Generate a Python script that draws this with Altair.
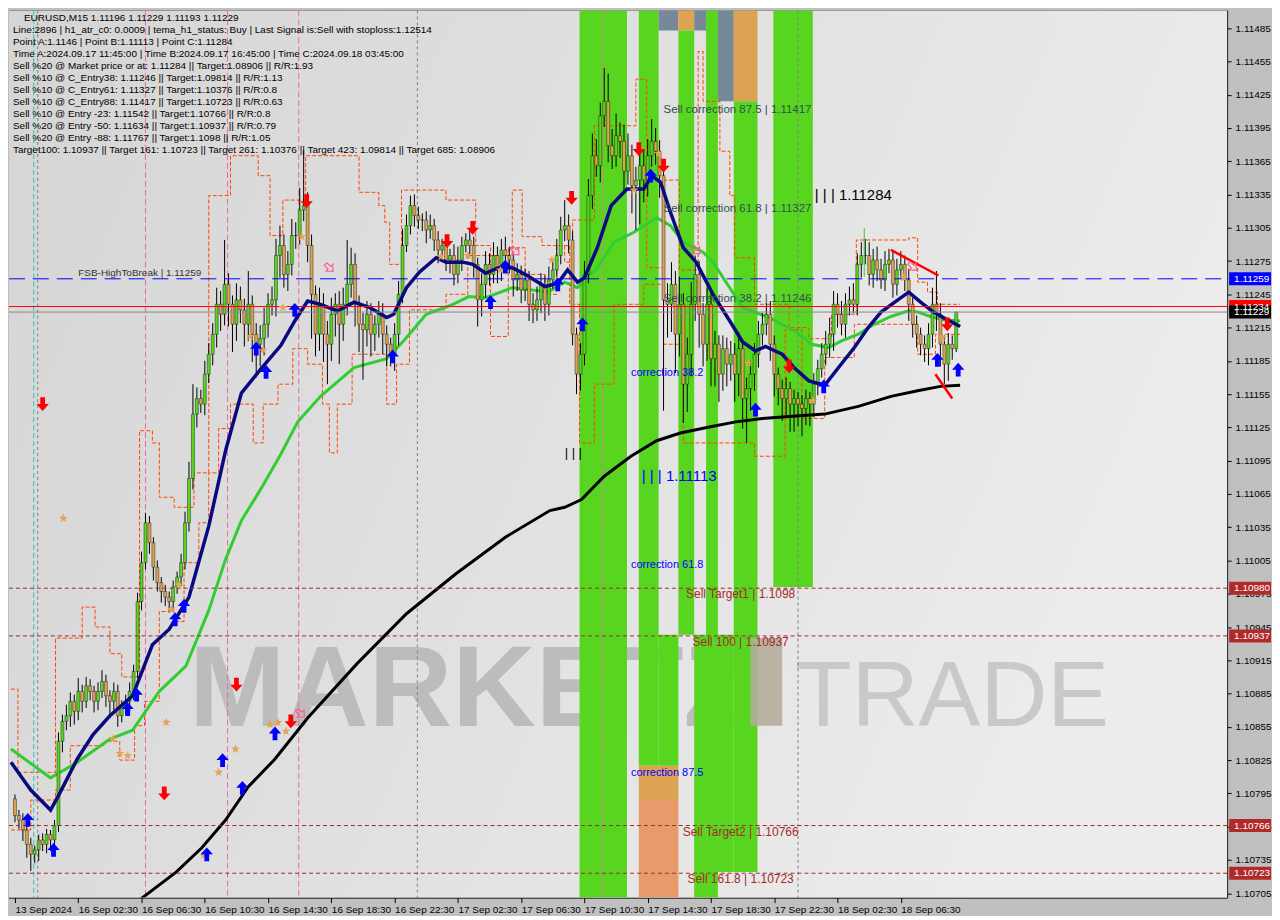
import altair as alt
import pandas as pd

W, H = 1222, 890
XDOM = [-0.25, 305.25]
YDOM = [1.10701, 1.11501]
FONT = "Liberation Sans"


def pr(v):
    # 5-digit pipette reading (e.g. 11229) -> price 1.11229
    return 1.0 + v / 100000.0


# ---------------- candles (15-minute bars), closes in pipettes ----------------
FIRST_OPEN = 10790
CLOSE = [10775, 10771, 10762, 10749, 10740, 10744, 10753, 10749, 10758, 10753,
         10766, 10842, 10860, 10865, 10878, 10869, 10887, 10878, 10892, 10887,
         10878, 10887, 10896, 10883, 10878, 10887, 10865, 10874, 10878, 10887,
         10905, 10968, 11003, 11039, 11021, 10999, 10985, 10977, 10972, 10968,
         10981, 10990, 11003, 11039, 11079, 11137, 11151, 11146, 11173, 11191,
         11209, 11236, 11227, 11254, 11236, 11218, 11240, 11231, 11218, 11236,
         11209, 11200, 11205, 11218, 11236, 11240, 11280, 11289, 11263, 11272,
         11298, 11298, 11321, 11325, 11289, 11245, 11209, 11236, 11209, 11200,
         11227, 11236, 11218, 11236, 11254, 11272, 11236, 11218, 11213, 11227,
         11209, 11218, 11227, 11209, 11200, 11191, 11209, 11245, 11289, 11307,
         11325, 11316, 11312, 11312, 11303, 11307, 11294, 11285, 11289, 11276,
         11280, 11263, 11276, 11289, 11294, 11289, 11272, 11240, 11254, 11272,
         11263, 11280, 11267, 11285, 11280, 11276, 11258, 11263, 11249, 11258,
         11236, 11231, 11240, 11254, 11236, 11258, 11267, 11280, 11303, 11307,
         11294, 11209, 11173, 11191, 11263, 11334, 11370, 11361, 11406, 11419,
         11379, 11370, 11388, 11383, 11356, 11370, 11343, 11348, 11361, 11348,
         11370, 11383, 11374, 11352, 11240, 11236, 11254, 11209, 11236, 11164,
         11191, 11236, 11263, 11227, 11200, 11236, 11187, 11200, 11173, 11196,
         11182, 11191, 11173, 11196, 11151, 11160, 11173, 11191, 11209, 11218,
         11227, 11200, 11173, 11160, 11151, 11160, 11146, 11151, 11146, 11142,
         11151, 11146, 11164, 11178, 11191, 11200, 11209, 11236, 11227, 11218,
         11236, 11240, 11236, 11272, 11280, 11280, 11263, 11276, 11267, 11258,
         11272, 11276, 11254, 11267, 11272, 11258, 11236, 11218, 11209, 11200,
         11196, 11209, 11236, 11227, 11200, 11182, 11200, 11196, 11229]
UPPER_WICK = [4, 5, 6, 5, 6, 4, 5, 6, 5, 4,
              5, 8, 6, 10, 8, 6, 12, 6, 8, 6,
              5, 8, 10, 6, 5, 8, 6, 5, 6, 8,
              6, 8, 10, 9, 6, 5, 6, 5, 6, 5,
              6, 5, 8, 10, 15, 27, 10, 8, 12, 10,
              10, 15, 12, 40, 10, 8, 15, 12, 10, 30,
              8, 10, 12, 15, 10, 12, 15, 18, 10, 12,
              15, 12, 20, 50, 12, 10, 8, 15, 10, 12,
              15, 10, 12, 15, 40, 15, 10, 8, 10, 12,
              10, 8, 12, 10, 8, 6, 10, 12, 15, 10,
              9, 10, 8, 6, 8, 10, 6, 8, 6, 8,
              6, 10, 12, 8, 6, 10, 8, 6, 10, 12,
              10, 12, 8, 10, 12, 8, 6, 10, 8, 10,
              8, 10, 12, 10, 8, 12, 10, 15, 12, 23,
              10, 8, 6, 10, 12, 15, 20, 15, 12, 30,
              25, 15, 20, 12, 15, 20, 10, 12, 20, 15,
              15, 20, 12, 10, 8, 15, 20, 12, 25, 10,
              15, 20, 17, 12, 10, 15, 10, 12, 8, 12,
              10, 12, 10, 15, 8, 10, 12, 10, 12, 10,
              10, 12, 8, 6, 8, 10, 6, 8, 6, 8,
              8, 6, 10, 8, 10, 12, 15, 12, 10, 12,
              10, 12, 15, 10, 12, 15, 12, 10, 12, 10,
              12, 10, 8, 10, 12, 8, 10, 6, 8, 6,
              8, 10, 15, 30, 10, 8, 10, 8, 0]
LOWER_WICK = [6, 8, 10, 12, 15, 8, 10, 6, 8, 10,
              8, 6, 10, 8, 10, 12, 8, 10, 6, 8,
              10, 8, 6, 10, 12, 8, 10, 6, 8, 10,
              8, 6, 8, 6, 10, 12, 8, 10, 8, 10,
              8, 6, 8, 6, 8, 10, 12, 8, 10, 8,
              10, 12, 15, 10, 20, 25, 15, 12, 20, 15,
              25, 30, 20, 15, 12, 10, 15, 20, 12, 15,
              10, 12, 8, 10, 15, 40, 20, 15, 25, 36,
              15, 20, 36, 15, 10, 12, 20, 25, 45, 15,
              20, 15, 12, 18, 20, 11, 15, 10, 8, 6,
              8, 10, 8, 10, 12, 8, 10, 12, 8, 10,
              12, 10, 8, 10, 6, 10, 12, 24, 15, 12,
              10, 8, 12, 10, 8, 12, 15, 10, 12, 10,
              15, 12, 10, 12, 15, 10, 8, 6, 8, 10,
              12, 10, 18, 15, 10, 8, 12, 10, 15, 10,
              15, 12, 10, 15, 20, 12, 25, 40, 40, 20,
              15, 10, 12, 20, 100, 30, 25, 35, 20, 35,
              25, 20, 15, 30, 20, 15, 25, 25, 25, 15,
              20, 15, 25, 20, 27, 40, 20, 15, 12, 10,
              10, 15, 20, 15, 20, 15, 25, 25, 20, 25,
              15, 20, 12, 10, 8, 10, 12, 15, 12, 10,
              12, 10, 8, 10, 12, 8, 10, 12, 10, 8,
              10, 8, 12, 10, 8, 10, 15, 12, 12, 10,
              12, 15, 12, 15, 20, 18, 15, 10, 3]

# ---------------- indicator lines (bar index, pipettes) ----------------
BLUE_X = [-1, 4, 9, 11, 15.75, 19.75, 24, 29.75, 34.75, 39, 44, 49, 53.25, 57.25, 62.25, 67.25,
          70.75, 74, 77.25, 81.5, 85.75, 89.75, 94, 95.75, 99, 102.25, 106.5, 109, 113.25, 115.75,
          119, 122.25, 125.75, 129, 134, 137.25, 139.75, 142.25, 144, 147.25, 150.75, 154.75, 159,
          161, 163.25, 165.75, 169, 172.25, 176.5, 180.75, 184, 187.25, 189.75, 194, 197.25, 200.75,
          204.75, 208.25, 212.25, 215.75, 219, 223.25, 226, 229, 232.25, 234.75, 239]
BLUE_V = [10823, 10798, 10780, 10793, 10826, 10848, 10865, 10883, 10929, 10943, 10972, 11036, 11104,
          11156, 11178, 11199, 11221, 11239, 11236, 11230, 11238, 11233, 11224, 11227, 11251, 11265,
          11278, 11274, 11274, 11272, 11264, 11269, 11269, 11263, 11252, 11255, 11267, 11256, 11260,
          11287, 11325, 11340, 11340, 11352, 11346, 11319, 11287, 11274, 11245, 11221, 11202, 11194,
          11198, 11191, 11178, 11167, 11163, 11179, 11197, 11215, 11229, 11240, 11247, 11238, 11229,
          11224, 11216]
GREEN_X = [-1, 9, 15.75, 24, 29.75, 36.5, 43.25, 49, 53.25, 57.25, 62.25, 67.25, 71.5, 77.25, 85.75,
           94, 98.25, 104, 110.75, 114.75, 119, 125.75, 130.75, 134.75, 139, 142.25, 147.25, 151.5,
           156.5, 162.25, 165.75, 169, 174, 176.5, 184, 190.75, 197.25, 201.5, 205.75, 209, 213.25,
           217.25, 221.5, 225.75, 228.25, 231.5, 234.75, 239]
GREEN_V = [10835, 10809, 10823, 10844, 10852, 10887, 10910, 10960, 11006, 11041, 11070, 11101, 11130,
           11153, 11179, 11187, 11203, 11227, 11236, 11243, 11242, 11251, 11249, 11247, 11256, 11251,
           11269, 11292, 11301, 11314, 11307, 11292, 11283, 11274, 11233, 11224, 11212, 11200, 11197,
           11203, 11209, 11218, 11225, 11230, 11229, 11225, 11222, 11221]
BLACK_X = [28.5, 32.25, 40.75, 47.25, 53.25, 59, 65.75, 74, 86.5, 99, 111.5, 124, 135.25, 139,
           143.25, 149, 155.75, 162.25, 168.25, 176.5, 182.25, 189, 196.5, 204.75, 213.25, 221.5,
           228.25, 234, 239]
BLACK_V = [10690, 10701, 10724, 10746, 10771, 10801, 10826, 10863, 10912, 10957, 10993, 11026, 11050,
           11053, 11060, 11081, 11099, 11113, 11120, 11126, 11130, 11133, 11135, 11137, 11144, 11153,
           11158, 11162, 11163]
UPPER_X = [-1, 0.75, 10.25, 17, 20.25, 24, 27, 31.5, 34.75, 36.5, 40.25, 45.25, 49, 54.5, 61.5, 64.5,
           67.75, 73.5, 87, 92, 93.5, 94.75, 97.75, 109, 116.5, 120.25, 125.75, 128.25, 133.25, 139,
           141, 146.5, 157, 159.75, 164, 168, 172.75, 174, 178.25, 180.75, 182, 187, 195.75, 200.75,
           206.5, 212.75, 226, 228.25, 230.75, 233.25, 239]
UPPER_V = [10889, 10814, 10935, 10963, 10945, 10921, 10900, 11122, 11111, 11062, 11053, 11084, 11334,
           11370, 11352, 11298, 11330, 11370, 11337, 11325, 11310, 11272, 11339, 11330, 11289, 11280,
           11339, 11297, 11289, 11274, 11312, 11397, 11439, 11269, 11348, 11267, 11464, 11419, 11374,
           11334, 11278, 11236, 11215, 11205, 11227, 11294, 11296, 11256, 11247, 11236, 11236]
LOWER_X = [-1, 4, 10.25, 14, 22.75, 26.5, 30.25, 32.75, 36.5, 40.25, 42.75, 46.5, 49, 51.5, 54.5,
           60.25, 62.75, 66.5, 70.25, 74, 77.75, 79.5, 81.5, 85.25, 94, 96.5, 99.75, 109, 114.5,
           120.25, 124.75, 129, 134, 137, 140.25, 142.75, 146.5, 151.5, 159, 164, 169, 187, 194.75,
           199, 204.75, 212.25, 226, 228.25, 232.75, 239]
LOWER_V = [10762, 10789, 10798, 10838, 10842, 10825, 10856, 10878, 10959, 10950, 11003, 11039, 11084,
           11124, 11146, 11111, 11146, 11164, 11196, 11182, 11146, 11102, 11146, 11191, 11146, 11182,
           11231, 11245, 11280, 11207, 11287, 11263, 11245, 11289, 11236, 11111, 11164, 11236, 11254,
           11200, 11111, 11099, 11213, 11133, 11188, 11218, 11218, 11191, 11209, 11209]

# ---------------- signals ----------------
SELL_X = [7, 37.75, 56, 69.75, 73.75, 109.25, 115.75, 140.75, 157.75, 164, 195.75, 235.75]
SELL_V = [11146, 10795, 10893, 10860, 11329, 11293, 11305, 11332, 11376, 11361, 11180, 11218]
BUY_X = [3.25, 9.75, 28.5, 30.75, 40.5, 42.75, 48.5, 52.5, 57.5, 61, 63.5, 65.75, 70.75, 95.5,
         120.25, 124, 137.25, 143.5, 160.75, 187.25, 204.5, 233.25, 238.5]
BUY_V = [10771, 10744, 10871, 10884, 10952, 10964, 10740, 10825, 10800, 11196, 11175, 10849, 11231,
         11189, 11238, 11270, 11254, 11218, 11352, 11141, 11162, 11186, 11177]
STAR_X = [12.25, 38.25, 24.75, 26.5, 28.5, 39.5, 41.5, 51.5, 55.75, 47.75, 59.5, 62.75, 64.5, 66.5,
          68.5, 67.75, 72.5, 107.75, 114.5, 122.75, 135.75, 156.5, 162.75, 185.5, 201.75, 224.75, 234.5]
STAR_V = [11043, 10859, 10844, 10831, 10829, 10961, 10983, 10814, 10835, 10739, 11207, 11195, 10857,
          10859, 10851, 11233, 11297, 11279, 11280, 11267, 11276, 11339, 11372, 11183, 11149, 11260, 11206]
HOLLOW_X = [72.25, 79.5, 126.5, 172.25, 227]
HOLLOW_V = [10867, 11269, 11284, 11285, 11270]

# ---------------- zones ----------------
BAND_X0 = [142.75, 157.75, 157.75, 157.75, 162.75, 162.75, 167.75, 167.75, 171.75, 171.75, 174.75,
           177.75, 177.75, 181.75, 181.75, 191.75]
BAND_X1 = [154.75, 162.75, 167.75, 167.75, 167.75, 167.75, 171.75, 171.75, 174.75, 174.75, 177.75,
           181.75, 181.75, 187.75, 187.75, 201.75]
BAND_V0 = [11501, 11501, 10820, 10789, 11501, 10938, 11501, 11483, 11501, 10938, 11501, 11501, 10938,
           11501, 11419, 11501]
BAND_V1 = [10701, 10820, 10789, 10701, 11483, 10820, 11483, 10938, 11483, 10701, 10701, 11419, 10724,
           11419, 10724, 10981]
BAND_KIND = ["g", "g", "o", "s", "k", "g", "o", "g", "k", "g", "g", "k", "g", "o", "g", "g"]
BAND_COLORS = {"g": "#58d61f", "o": "#dca352", "s": "#e99a6b", "k": "#778899"}

TARGET_LEVELS = [10980, 10937, 10766, 10723]
TARGET_TEXT = ["Sell Target1 | 1.1098", "Sell 100 | 1.10937", "Sell Target2 | 1.10766", "Sell 161.8 | 1.10723"]
CORR_LEVELS = [11417, 11327, 11246]
CORR_TEXT = ["Sell correction 87.5 | 1.11417", "Sell correction 61.8 | 1.11327", "Sell correction 38.2 | 1.11246"]
BLUE_CORR_V = [11174, 11001, 10813]
BLUE_CORR_TEXT = ["correction 38.2", "correction 61.8", "correction 87.5"]
FSB_LEVEL = 11259
BID_LEVEL = 11229
ASK_LEVEL = 11234

TAG_V = [11259, 11234, 11229, 10980, 10937, 10766, 10723]
TAG_COLOR = ["#0000ff", "#ff0000", "#000000", "#b02a2a", "#b02a2a", "#b02a2a", "#b02a2a"]

VLINE_X = [4.75, 5.75, 33, 53.75, 71.75, 148.75, 101.75, 198]
VLINE_KIND = ["c", "d", "p", "p", "p", "p", "d", "d"]

TIME_TICKS = [0, 16, 32, 48, 64, 80, 96, 112, 128, 144, 160, 176, 192, 208, 224]
TIME_LABELS = ["13 Sep 2024", "16 Sep 02:30", "16 Sep 06:30", "16 Sep 10:30", "16 Sep 14:30",
               "16 Sep 18:30", "16 Sep 22:30", "17 Sep 02:30", "17 Sep 06:30", "17 Sep 10:30",
               "17 Sep 14:30", "17 Sep 18:30", "17 Sep 22:30", "18 Sep 02:30", "18 Sep 06:30"]
PRICE_TICKS = [10705, 10735, 10765, 10795, 10825, 10855, 10885, 10915, 10945, 10975, 11005, 11035,
               11065, 11095, 11125, 11155, 11185, 11215, 11245, 11275, 11305, 11335, 11365, 11395,
               11425, 11455, 11485]

HEADER = "EURUSD,M15  1.11196 1.11229 1.11193 1.11229"
INFO_LINES = [
    "Line:2896 | h1_atr_c0: 0.0009 | tema_h1_status: Buy | Last Signal is:Sell with stoploss:1.12514",
    "Point A:1.1146 | Point B:1.11113 | Point C:1.11284",
    "Time A:2024.09.17 11:45:00 | Time B:2024.09.17 16:45:00 | Time C:2024.09.18 03:45:00",
    "Sell %20 @ Market price or at: 1.11284 || Target:1.08906 || R/R:1.93",
    "Sell %10 @ C_Entry38: 1.11246 || Target:1.09814 || R/R:1.13",
    "Sell %10 @ C_Entry61: 1.11327 || Target:1.10376 || R/R:0.8",
    "Sell %10 @ C_Entry88: 1.11417 || Target:1.10723 || R/R:0.63",
    "Sell %10 @ Entry -23: 1.11542 || Target:1.10766 || R/R:0.8",
    "Sell %20 @ Entry -50: 1.11634 || Target:1.10937 || R/R:0.79",
    "Sell %20 @ Entry -88: 1.11767 || Target:1.1098 || R/R:1.05",
    "Target100: 1.10937 || Target 161: 1.10723 || Target 261: 1.10376 || Target 423: 1.09814 || Target 685: 1.08906",
]

# ---------------- tables ----------------
opens = [FIRST_OPEN] + CLOSE[:-1]
candles = pd.DataFrame({
    "i": list(range(len(CLOSE))),
    "o": [pr(v) for v in opens],
    "c": [pr(v) for v in CLOSE],
    "hi": [pr(max(o, c) + u) for o, c, u in zip(opens, CLOSE, UPPER_WICK)],
    "lo": [pr(min(o, c) - l) for o, c, l in zip(opens, CLOSE, LOWER_WICK)],
    "up": [c >= o for o, c in zip(opens, CLOSE)],
})


def line_df(xs, vs):
    return pd.DataFrame({"i": xs, "p": [pr(v) for v in vs]})


bands = pd.DataFrame({"x0": BAND_X0, "x1": BAND_X1, "p0": [pr(v) for v in BAND_V0],
                      "p1": [pr(v) for v in BAND_V1], "k": BAND_KIND})

label_expr = "[" + ",".join("'%s'" % s for s in TIME_LABELS) + "][round(datum.value/16)]"
AX_X = alt.Axis(values=TIME_TICKS, labelExpr=label_expr, title=None, orient="bottom",
                labelAlign="left", labelFont=FONT, labelFontSize=10, labelColor="black",
                tickColor="black", tickSize=5, domain=False, grid=False, labelPadding=2,
                labelOverlap=False)
AX_Y = alt.Axis(values=[pr(v) for v in PRICE_TICKS], format=".5f", title=None, orient="right",
                labelFont=FONT, labelFontSize=10, labelColor="black", tickColor="black",
                tickSize=4, domain=False, grid=False, labelPadding=4, labelOverlap=False)
XS = alt.Scale(domain=XDOM, nice=False, zero=False)
YS = alt.Scale(domain=YDOM, nice=False, zero=False)


def X(f):
    return alt.X(f, type="quantitative", scale=XS, axis=AX_X)


def Y(f):
    return alt.Y(f, type="quantitative", scale=YS, axis=AX_Y)


one = pd.DataFrame({"a": [0]})
layers = []

# background gradient
grad = alt.Gradient(gradient="linear", x1=0, x2=1, y1=0, y2=0.3,
                    stops=[alt.GradientStop(color="#d5d5d5", offset=0),
                           alt.GradientStop(color="#e0e0e0", offset=0.5),
                           alt.GradientStop(color="#ececec", offset=1)])
layers.append(alt.Chart(one).mark_rect(fill=grad).encode(
    x=alt.value(0), x2=alt.value(W), y=alt.value(0), y2=alt.value(H)))

# watermark
wm = pd.DataFrame({"i": [44, 197.25], "p": [pr(10856), pr(10856)], "t": ["MARKETZ", "TRADE"]})
layers.append(alt.Chart(wm.iloc[[0]]).mark_text(font=FONT, fontSize=116, fontWeight="bold",
                                                 align="left", baseline="alphabetic",
                                                 color="#bcbcbc").encode(x=X("i"), y=Y("p"), text="t"))
layers.append(alt.Chart(wm.iloc[[1]]).mark_text(font=FONT, fontSize=93, fontWeight="normal",
                                                 align="left", baseline="alphabetic",
                                                 color="#c9c9c9").encode(x=X("i"), y=Y("p"), text="t"))

# zones
layers.append(alt.Chart(bands).mark_rect(clip=True).encode(
    x=X("x0"), x2="x1", y=Y("p0"), y2="p1",
    color=alt.Color("k:N", scale=alt.Scale(domain=list(BAND_COLORS.keys()),
                                           range=list(BAND_COLORS.values())), legend=None)))
irect = pd.DataFrame({"x0": [186], "x1": [194], "p0": [pr(10935)], "p1": [pr(10856)]})
layers.append(alt.Chart(irect).mark_rect(color="#b2ad9a", opacity=0.9).encode(
    x=X("x0"), x2="x1", y=Y("p0"), y2="p1"))

# vertical marker lines
vl = pd.DataFrame({"i": VLINE_X, "k": VLINE_KIND})
for k, col, dash in [("c", "#22c4c4", [5, 3]), ("d", "#808080", [3, 3]), ("p", "#e66ea0", [6, 3])]:
    layers.append(alt.Chart(vl[vl.k == k]).mark_rule(color=col, strokeDash=dash, strokeWidth=1).encode(
        x=X("i"), y=alt.value(0), y2=alt.value(H)))

# orange step envelopes
for xs, vs in [(UPPER_X, UPPER_V), (LOWER_X, LOWER_V)]:
    layers.append(alt.Chart(line_df(xs, vs)).mark_line(
        color="#ff4500", strokeWidth=1, strokeDash=[4, 2], interpolate="step-after", clip=True).encode(
        x=X("i"), y=Y("p")))

# slow MAs
layers.append(alt.Chart(line_df(BLACK_X, BLACK_V)).mark_line(color="#000000", strokeWidth=3,
                                                            clip=True).encode(x=X("i"), y=Y("p")))
layers.append(alt.Chart(line_df(GREEN_X, GREEN_V)).mark_line(color="#32cd32", strokeWidth=3,
                                                            clip=True).encode(x=X("i"), y=Y("p")))

# candles
layers.append(alt.Chart(candles).mark_rule(color="black", strokeWidth=1).encode(
    x=X("i"), y=Y("lo"), y2="hi"))
layers.append(alt.Chart(candles).mark_bar(size=3, stroke="black", strokeWidth=0.4).encode(
    x=X("i"), y=Y("o"), y2="c",
    color=alt.Color("up:N", scale=alt.Scale(domain=[True, False], range=["#2fc46a", "#c0203c"]),
                    legend=None)))

# fast MA
layers.append(alt.Chart(line_df(BLUE_X, BLUE_V)).mark_line(color="#0a0a80", strokeWidth=3.5,
                                                          clip=True).encode(x=X("i"), y=Y("p")))

# horizontal levels
lv = pd.DataFrame({"p": [pr(v) for v in TARGET_LEVELS]})
layers.append(alt.Chart(lv).mark_rule(color="#9b2d2d", strokeDash=[4, 3], strokeWidth=1).encode(
    y=Y("p"), x=alt.value(0), x2=alt.value(W)))
layers.append(alt.Chart(pd.DataFrame({"p": [pr(FSB_LEVEL)]})).mark_rule(
    color="#0000ff", strokeDash=[16, 8], strokeWidth=1).encode(y=Y("p"), x=alt.value(0), x2=alt.value(W)))
layers.append(alt.Chart(pd.DataFrame({"p": [pr(ASK_LEVEL)]})).mark_rule(
    color="#ff0000", strokeWidth=1).encode(y=Y("p"), x=alt.value(0), x2=alt.value(W)))
layers.append(alt.Chart(pd.DataFrame({"p": [pr(BID_LEVEL)]})).mark_rule(
    color="#8a8a8a", strokeWidth=1).encode(y=Y("p"), x=alt.value(0), x2=alt.value(W)))

# pattern lines
tl = pd.DataFrame({"i": [221.5, 233.5, 232.75, 237], "p": [pr(11285), pr(11262), pr(11173), pr(11151)],
                   "g": ["a", "a", "b", "b"]})
layers.append(alt.Chart(tl).mark_line(color="#ff0000", strokeWidth=2.5).encode(
    x=X("i"), y=Y("p"), detail="g:N"))
gl = pd.DataFrame({"i": [214.75], "p0": [pr(11305)], "p1": [pr(11261)]})
layers.append(alt.Chart(gl).mark_rule(color="#32cd32", strokeWidth=1).encode(x=X("i"), y=Y("p0"), y2="p1"))

# signals
DOWN = "M-0.35,-1 L0.35,-1 L0.35,0 L0.9,0 L0,1 L-0.9,0 L-0.35,0 Z"
UP = "M-0.35,1 L0.35,1 L0.35,0 L0.9,0 L0,-1 L-0.9,0 L-0.35,0 Z"
STAR = ("M0,-1 L0.235,-0.324 L0.951,-0.309 L0.38,0.124 L0.588,0.809 L0,0.4 L-0.588,0.809 "
        "L-0.38,0.124 L-0.951,-0.309 L-0.235,-0.324 Z")
layers.append(alt.Chart(line_df(STAR_X, STAR_V)).mark_point(shape=STAR, filled=True, size=90,
                                                           color="#e3a356", opacity=1).encode(
    x=X("i"), y=Y("p")))
layers.append(alt.Chart(line_df(SELL_X, SELL_V)).mark_point(shape=DOWN, filled=True, size=190,
                                                           color="#ff0000", opacity=1).encode(
    x=X("i"), y=Y("p")))
layers.append(alt.Chart(line_df(BUY_X, BUY_V)).mark_point(shape=UP, filled=True, size=190,
                                                         color="#0000ff", opacity=1).encode(
    x=X("i"), y=Y("p")))
layers.append(alt.Chart(line_df(HOLLOW_X, HOLLOW_V)).mark_point(shape=DOWN, filled=False, size=110,
                                                               angle=315, color="#ff5c8a",
                                                               strokeWidth=1.2, opacity=1).encode(
    x=X("i"), y=Y("p")))

# level labels
tdf = pd.DataFrame({"i": [183.5] * 4, "p": [pr(v) for v in TARGET_LEVELS], "t": TARGET_TEXT})
layers.append(alt.Chart(tdf).mark_text(font=FONT, fontSize=12, align="center", baseline="top", dy=1,
                                       color="#a52a2a").encode(x=X("i"), y=Y("p"), text="t"))
cdf = pd.DataFrame({"i": [164] * 3, "p": [pr(v) for v in CORR_LEVELS], "t": CORR_TEXT})
layers.append(alt.Chart(cdf).mark_text(font=FONT, fontSize=11.5, align="left", baseline="top", dy=0,
                                       color="#2f4f4f").encode(x=X("i"), y=Y("p"), text="t"))
bdf = pd.DataFrame({"i": [155.75] * 3, "p": [pr(v) for v in BLUE_CORR_V], "t": BLUE_CORR_TEXT})
layers.append(alt.Chart(bdf).mark_text(font=FONT, fontSize=11, align="left", baseline="middle",
                                       color="#0000ff").encode(x=X("i"), y=Y("p"), text="t"))
layers.append(alt.Chart(pd.DataFrame({"i": [202.25], "p": [pr(11284)], "t": ["| | | 1.11284"]})).mark_text(
    font=FONT, fontSize=15, align="left", baseline="middle", dy=-56, color="#000000").encode(
    x=X("i"), y=Y("p"), text="t"))
layers.append(alt.Chart(pd.DataFrame({"i": [158.5], "p": [pr(11113)], "t": ["| | | 1.11113"]})).mark_text(
    font=FONT, fontSize=15, align="left", baseline="middle", dy=35, color="#0000ff").encode(
    x=X("i"), y=Y("p"), text="t"))
layers.append(alt.Chart(pd.DataFrame({"i": [139], "p": [pr(11102)], "t": ["| | |"]})).mark_text(
    font=FONT, fontSize=13, align="left", baseline="middle", color="#000000").encode(
    x=X("i"), y=Y("p"), text="t"))
layers.append(alt.Chart(pd.DataFrame({"i": [16], "p": [pr(FSB_LEVEL)], "t": ["FSB-HighToBreak  |  1.11259"]})).mark_text(
    font=FONT, fontSize=10, align="left", baseline="bottom", dy=-1, color="#333333").encode(
    x=X("i"), y=Y("p"), text="t"))

# info block
layers.append(alt.Chart(one).mark_text(font=FONT, fontSize=10, align="left", baseline="middle",
                                       color="black").encode(
    x=alt.value(15), y=alt.value(8), text=alt.value(HEADER)))
layers.append(alt.Chart(one).mark_text(font=FONT, fontSize=10, align="left", baseline="top",
                                       lineHeight=12, color="black").encode(
    x=alt.value(4), y=alt.value(15), text=alt.value(INFO_LINES)))

# right-axis price tags
tags = pd.DataFrame({"p": [pr(v) for v in TAG_V], "c": TAG_COLOR, "t": ["%.5f" % pr(v) for v in TAG_V]})
layers.append(alt.Chart(tags).mark_tick(orient="horizontal", size=42, thickness=13, opacity=1).encode(
    x=alt.value(W + 23), y=Y("p"), color=alt.Color("c:N", scale=None)))
layers.append(alt.Chart(tags).mark_text(font=FONT, fontSize=10, align="left", baseline="middle",
                                        color="white").encode(
    x=alt.value(W + 7), y=Y("p"), text="t"))

chart = alt.layer(*layers).properties(width=W, height=H, padding=0).configure(
    background="#c0c0c0").configure_view(stroke="black", strokeWidth=1)

chart.save("out.html", embed_options={"renderer": "svg", "actions": False})
